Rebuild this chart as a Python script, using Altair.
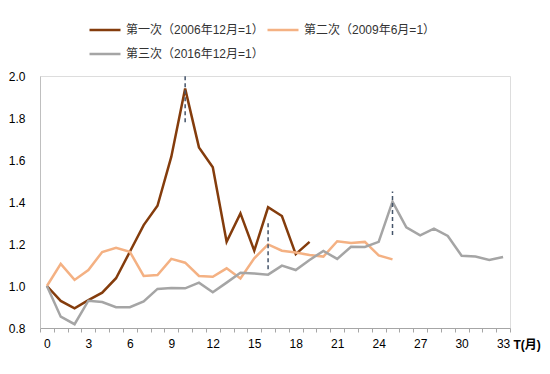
import altair as alt
import pandas as pd

months = list(range(34))
series_names = ["第一次（2006年12月=1）", "第二次（2009年6月=1）", "第三次（2016年12月=1）"]
series_colors = ["#843c0c", "#f4b183", "#a5a5a5"]

first = [1.0, 0.929, 0.894, 0.933, 0.968, 1.037, 1.163, 1.29, 1.382, 1.616,
         1.94, 1.66, 1.565, 1.211, 1.346, 1.168, 1.375, 1.333, 1.152, 1.21]
second = [1.0, 1.105, 1.029, 1.076, 1.162, 1.182, 1.163, 1.048, 1.052, 1.129,
          1.111, 1.048, 1.044, 1.084, 1.036, 1.132, 1.198, 1.168, 1.159, 1.148,
          1.14, 1.213, 1.205, 1.21, 1.146, 1.127]
third = [1.0, 0.854, 0.818, 0.93, 0.924, 0.899, 0.899, 0.927, 0.986, 0.99,
         0.989, 1.016, 0.97, 1.016, 1.063, 1.06, 1.054, 1.097, 1.076, 1.124,
         1.167, 1.129, 1.187, 1.186, 1.21, 1.402, 1.279, 1.241, 1.273, 1.238,
         1.144, 1.14, 1.124, 1.138]

peak_T = [10, 16, 25]
peak_lo = [1.78, 1.08, 1.243]
peak_hi = [2.0, 1.30, 1.45]

y_ticks = [0.8, 1.0, 1.2, 1.4, 1.6, 1.8, 2.0]

rows = []
for name, vals in zip(series_names, [first, second, third]):
    for t, v in enumerate(vals):
        rows.append({"T": t, "v": v, "series": name})
df = pd.DataFrame(rows)
peaks = pd.DataFrame({"T": peak_T, "lo": peak_lo, "hi": peak_hi})

FONT = "Liberation Sans, Arial, Noto Sans CJK SC"

x_enc = alt.X(
    "T:O",
    bandPosition=0.5,
    scale=alt.Scale(type="band", domain=months, paddingInner=0, paddingOuter=0),
    axis=alt.Axis(
        tickBand="extent",
        labelExpr="datum.value % 3 == 0 ? datum.label : ''",
        labelOverlap=False,
        labelAngle=0,
        tickSize=4,
        tickColor="#a6a6a6",
        domainColor="#a6a6a6",
        labelFontSize=12,
        labelFont=FONT,
        labelColor="#000000",
        labelPadding=6,
        title="T(月)",
        titleFont=FONT,
        titleFontSize=12,
        titleFontWeight="bold",
        titleColor="#000000",
        titleX=473,
        titleY=16,
        titleAlign="left",
        titleBaseline="middle",
        titleAnchor="start",
    ),
)

lines = alt.Chart(df).mark_line(strokeWidth=2.5).encode(
    x=x_enc,
    y=alt.Y(
        "v:Q",
        scale=alt.Scale(domain=[0.8, 2.0], nice=False, zero=False),
        axis=alt.Axis(
            values=y_ticks,
            format=".1f",
            ticks=False,
            grid=False,
            domainColor="#bfbfbf",
            labelPadding=15,
            labelFontSize=12,
            labelFont=FONT,
            labelColor="#000000",
            title=None,
        ),
    ),
    color=alt.Color(
        "series:N",
        scale=alt.Scale(domain=series_names, range=series_colors),
        legend=alt.Legend(
            title=None,
            orient="none",
            legendX=48,
            legendY=-57,
            direction="horizontal",
            columns=2,
            symbolType="stroke",
            symbolSize=961,
            symbolStrokeWidth=2.5,
            labelFontSize=12,
            labelFont=FONT,
            labelColor="#333333",
            labelOffset=4,
            columnPadding=2,
            rowPadding=2,
            clipHeight=22,
        ),
    ),
    order=alt.Order("T:Q"),
)

rules = alt.Chart(peaks).mark_rule(
    color="#44546a", strokeWidth=1.5, strokeDash=[4, 3]
).encode(
    x=alt.X("T:O", bandPosition=0.5),
    y=alt.Y("lo:Q"),
    y2="hi:Q",
)

chart = alt.layer(lines, rules).properties(
    width=470,
    height=252,
    padding={"left": 32, "top": 68, "right": 32, "bottom": 30},
    autosize=alt.AutoSizeParams(type="none"),
).configure_view(stroke=None).configure(background="white")

chart.save("out.html", embed_options={"renderer": "svg", "actions": False})
